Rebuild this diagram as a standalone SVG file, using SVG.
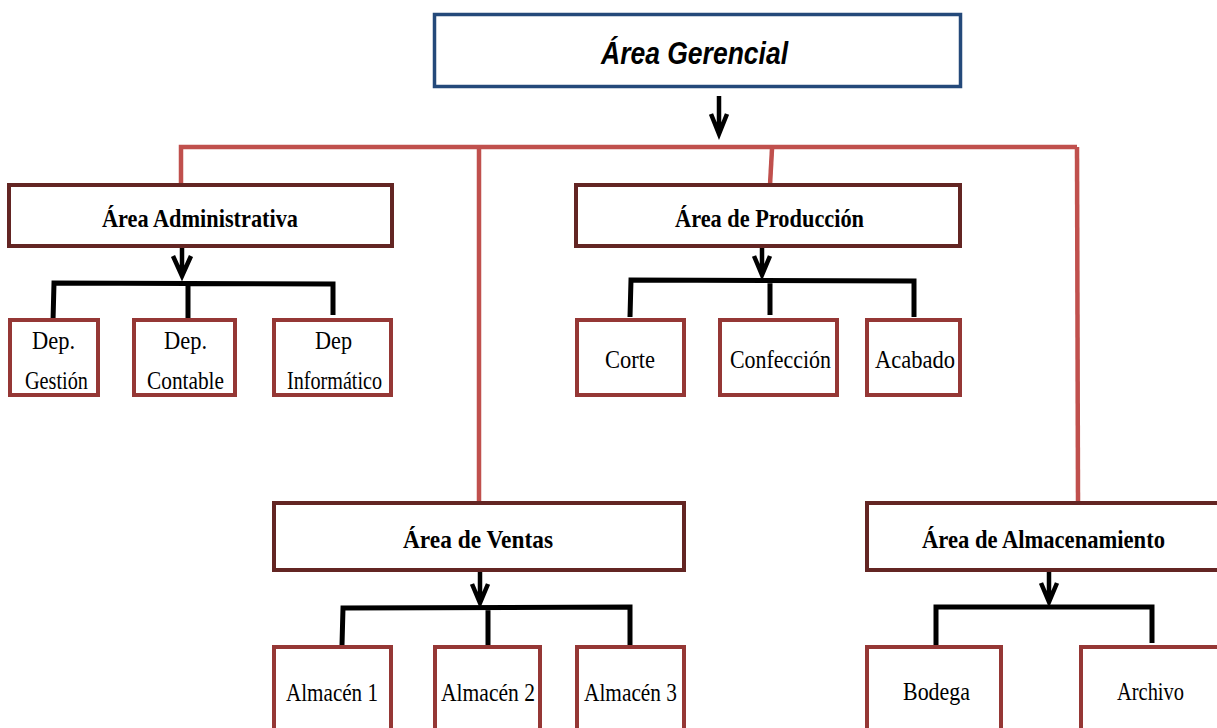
<svg xmlns="http://www.w3.org/2000/svg" width="1217" height="728" viewBox="0 0 1217 728">
  <style>
    .top { fill: #fff; stroke: #24497a; stroke-width: 3.5; }
    .area { fill: #fff; stroke: #632523; stroke-width: 4; }
    .dep { fill: #fff; stroke: #953735; stroke-width: 4; }
    .red { fill: none; stroke: #c0504d; stroke-width: 4.5; }
    .blk { fill: none; stroke: #000; stroke-width: 5; stroke-linejoin: miter; }
    .arr { fill: none; stroke: #000; stroke-width: 4.5; stroke-linejoin: miter; }
    .t-top { font-family: "Liberation Sans", Arial, sans-serif; font-weight: bold; font-style: italic; font-size: 31px; fill: #000; }
    .t-area { font-family: "Liberation Serif", "Times New Roman", serif; font-weight: bold; font-size: 26px; fill: #000; }
    .t-dep { font-family: "Liberation Serif", "Times New Roman", serif; font-size: 26px; fill: #000; }
  </style>

  <!-- connectors -->
  <g id="connectors">
    <!-- main distribution line -->
    <path class="red" d="M181,184 L181,147 L1077,147"/>
    <path class="red" d="M479,147 L479,503"/>
    <path class="red" d="M772,149 L770,185"/>
    <path class="red" d="M1077,147 L1078,503"/>

    <!-- arrows -->
    <path class="arr" d="M719,96 L719,134 M711,114 L719,134 L727,114"/>
    <path class="arr" d="M182,248 L182,276 M173,256 L182,276 L191,256"/>
    <path class="arr" d="M762,248 L762,275 M754,256 L762,275 L770,256"/>
    <path class="arr" d="M480,571 L480,603 M472,584 L480,603 L488,584"/>
    <path class="arr" d="M1049,571 L1049,602 M1041,583 L1049,602 L1057,583"/>

    <!-- brackets -->
    <path class="blk" d="M53,321 L54,283 L333,284 L333,315 M188,283 L188,320"/>
    <path class="blk" d="M630,317 L631,280 L914,281 L914,317 M770,281 L770,315"/>
    <path class="blk" d="M342,645 L343,608 L630,607 L630,645 M488,608 L488,645"/>
    <path class="blk" d="M936,645 L936,607 L1152,607 L1152,643"/>
  </g>

  <g id="area-gerencial">
    <rect class="top" x="434.5" y="14.5" width="526" height="72"/>
    <text class="t-top" x="601" y="64" textLength="187" lengthAdjust="spacingAndGlyphs">Área Gerencial</text>
  </g>

  <g id="area-administrativa">
    <rect class="area" x="9" y="185" width="383" height="61"/>
    <text class="t-area" x="102" y="227" textLength="196" lengthAdjust="spacingAndGlyphs">Área Administrativa</text>
  </g>

  <g id="area-produccion">
    <rect class="area" x="576" y="185" width="384" height="61"/>
    <text class="t-area" x="675" y="227" textLength="189" lengthAdjust="spacingAndGlyphs">Área de Producción</text>
  </g>

  <g id="area-ventas">
    <rect class="area" x="274" y="503" width="410" height="67"/>
    <text class="t-area" x="403" y="548" textLength="150" lengthAdjust="spacingAndGlyphs">Área de Ventas</text>
  </g>

  <g id="area-almacenamiento">
    <rect class="area" x="867" y="503" width="370" height="67"/>
    <text class="t-area" x="922" y="548" textLength="243" lengthAdjust="spacingAndGlyphs">Área de Almacenamiento</text>
  </g>

  <g id="dep-gestion">
    <rect class="dep" x="10" y="320" width="88" height="75"/>
    <text class="t-dep" x="32" y="349" textLength="43" lengthAdjust="spacingAndGlyphs">Dep.</text>
    <text class="t-dep" x="25" y="389" textLength="63" lengthAdjust="spacingAndGlyphs">Gestión</text>
  </g>

  <g id="dep-contable">
    <rect class="dep" x="134" y="320" width="101" height="75"/>
    <text class="t-dep" x="164" y="349" textLength="43" lengthAdjust="spacingAndGlyphs">Dep.</text>
    <text class="t-dep" x="147" y="389" textLength="77" lengthAdjust="spacingAndGlyphs">Contable</text>
  </g>

  <g id="dep-informatico">
    <rect class="dep" x="274" y="320" width="117" height="75"/>
    <text class="t-dep" x="315" y="349" textLength="37" lengthAdjust="spacingAndGlyphs">Dep</text>
    <text class="t-dep" x="287" y="389" textLength="95" lengthAdjust="spacingAndGlyphs">Informático</text>
  </g>

  <g id="corte">
    <rect class="dep" x="577" y="320" width="107" height="75"/>
    <text class="t-dep" x="605" y="368" textLength="50" lengthAdjust="spacingAndGlyphs">Corte</text>
  </g>

  <g id="confeccion">
    <rect class="dep" x="720" y="320" width="117" height="75"/>
    <text class="t-dep" x="730" y="368" textLength="101" lengthAdjust="spacingAndGlyphs">Confección</text>
  </g>

  <g id="acabado">
    <rect class="dep" x="867" y="320" width="93" height="75"/>
    <text class="t-dep" x="875" y="368" textLength="80" lengthAdjust="spacingAndGlyphs">Acabado</text>
  </g>

  <g id="almacen-1">
    <rect class="dep" x="274" y="647" width="117" height="95"/>
    <text class="t-dep" x="286" y="701" textLength="92" lengthAdjust="spacingAndGlyphs">Almacén 1</text>
  </g>

  <g id="almacen-2">
    <rect class="dep" x="435" y="647" width="105" height="95"/>
    <text class="t-dep" x="441" y="701" textLength="94" lengthAdjust="spacingAndGlyphs">Almacén 2</text>
  </g>

  <g id="almacen-3">
    <rect class="dep" x="577" y="647" width="107" height="95"/>
    <text class="t-dep" x="584" y="701" textLength="93" lengthAdjust="spacingAndGlyphs">Almacén 3</text>
  </g>

  <g id="bodega">
    <rect class="dep" x="867" y="647" width="134" height="95"/>
    <text class="t-dep" x="903" y="700" textLength="67" lengthAdjust="spacingAndGlyphs">Bodega</text>
  </g>

  <g id="archivo">
    <rect class="dep" x="1081" y="647" width="150" height="95"/>
    <text class="t-dep" x="1117" y="700" textLength="67" lengthAdjust="spacingAndGlyphs">Archivo</text>
  </g>
</svg>
